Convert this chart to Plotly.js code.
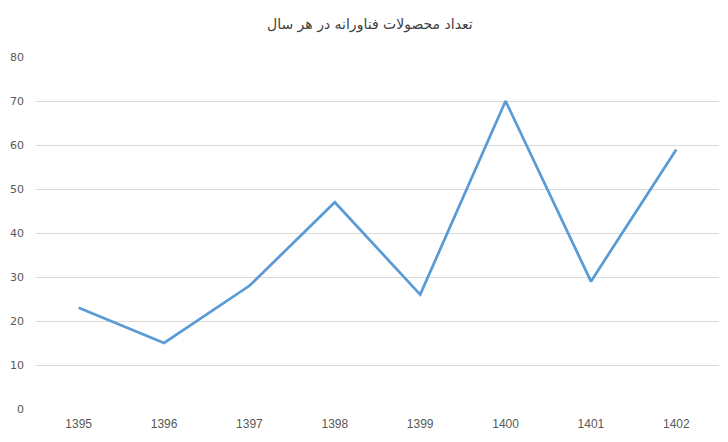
<!DOCTYPE html>
<html>
<head>
<meta charset="utf-8">
<script src="https://cdn.plot.ly/plotly-3.0.1.min.js"></script>
<style>html,body{margin:0;padding:0;background:#fff;}#chart{width:728px;height:442px;}</style>
</head>
<body>
<div id="chart"></div>
<script>
const years = ['1395','1396','1397','1398','1399','1400','1401','1402'];
const counts = [23, 15, 28, 47, 26, 70, 29, 59];
const titleText = 'تعداد محصولات فناورانه در هر سال';

Plotly.newPlot('chart', [{
  type: 'scatter',
  mode: 'lines',
  x: years,
  y: counts,
  line: {color: '#5B9BD5', width: 2.75},
  hoverinfo: 'x+y'
}], {
  width: 728,
  height: 442,
  margin: {l: 36, r: 9, t: 57, b: 33},
  paper_bgcolor: '#ffffff',
  plot_bgcolor: '#ffffff',
  title: {text: titleText, x: 0.508, xanchor: 'center', y: 0.945, yanchor: 'middle',
          font: {family: 'DejaVu Sans, Noto Sans, sans-serif', size: 14, color: '#404040'}},
  showlegend: false,
  xaxis: {
    type: 'category',
    range: [-0.5, 7.5],
    showgrid: false,
    zeroline: false,
    showline: false,
    ticks: '',
    ticklabelstandoff: 6,
    tickfont: {family: 'Liberation Sans, Arial, sans-serif', size: 12, color: '#595959'}
  },
  yaxis: {
    range: [0, 80],
    dtick: 10,
    tick0: 0,
    showgrid: true,
    gridcolor: '#D9D9D9',
    gridwidth: 1,
    zeroline: false,
    showline: false,
    ticks: '',
    ticklabelstandoff: 11,
    tickfont: {family: 'DejaVu Sans, sans-serif', size: 11, color: '#595959'}
  }
}, {displayModeBar: false, staticPlot: true});
</script>
</body>
</html>
